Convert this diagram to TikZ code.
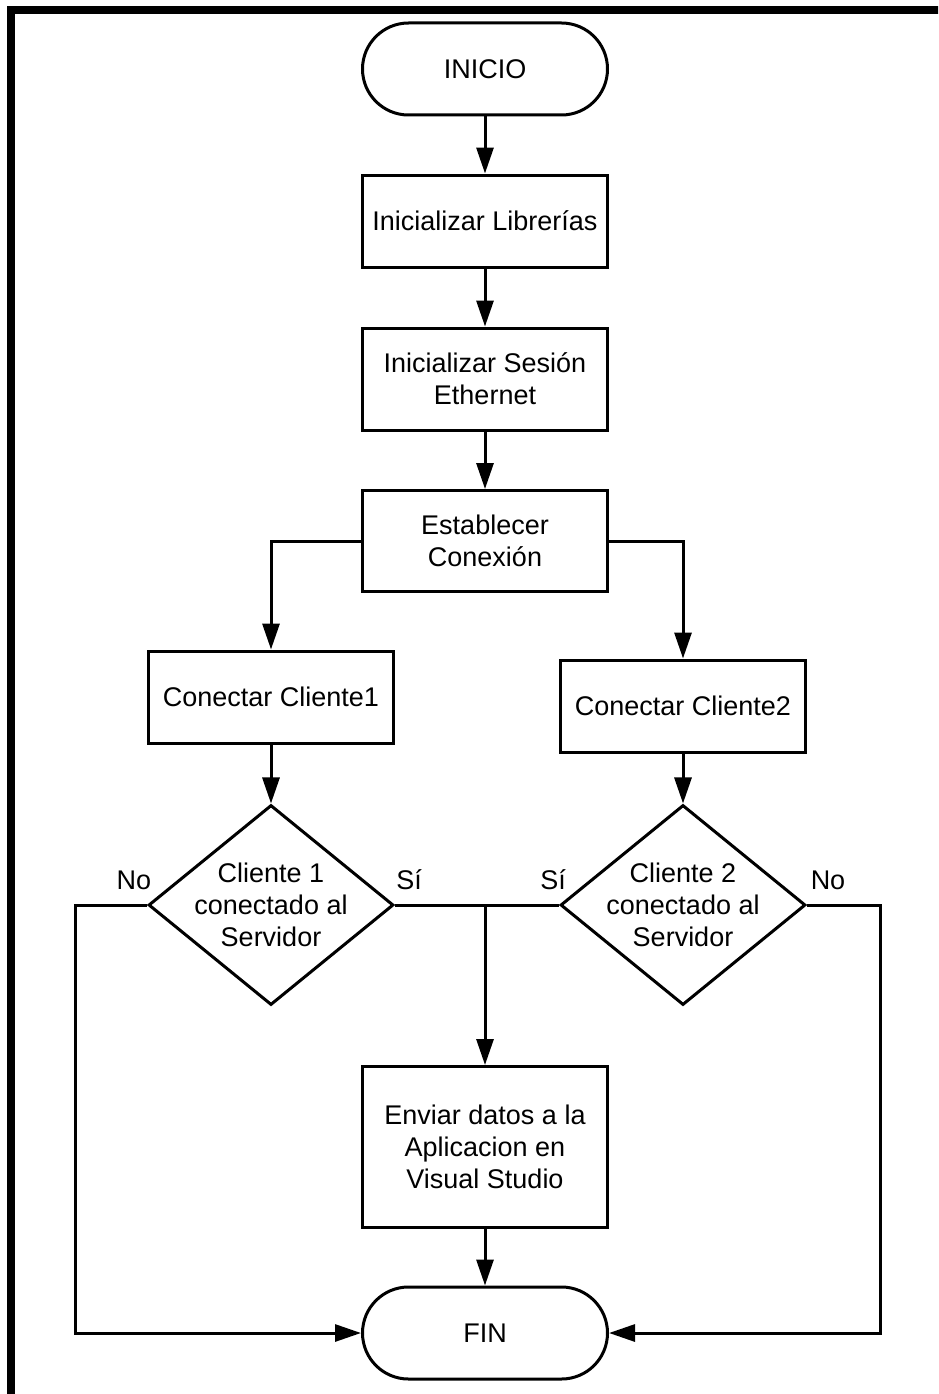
\documentclass[tikz,border=0pt]{standalone}
\usepackage{fontspec}
\setmainfont{Liberation Sans}
\usepackage{tikz}
\usetikzlibrary{shapes,arrows.meta}
\usetikzlibrary{positioning}
\newcommand{\txtdiag}{\fontsize{27}{32}\selectfont}
\tikzstyle{arrow} = [line width=3pt,-{Triangle[length=26pt,width=17pt]}]
\tikzstyle{conector} = [line width=3pt]
\tikzstyle{terminal} = [
    rectangle, rounded corners=46pt, minimum width=245pt, minimum height=92pt,
    text centered, draw=black, line width=3pt, font=\txtdiag]
\tikzstyle{proceso} = [
    rectangle, minimum width=245pt, minimum height=92pt, align=center,
    draw=black, line width=3pt, font=\txtdiag]
\tikzstyle{decision} = [
    diamond, aspect=1.225, minimum width=245pt, minimum height=200pt, inner sep=-4pt,
    align=center, draw=black, line width=3pt, font=\txtdiag]
\tikzstyle{etiqueta} = [font=\txtdiag]

\begin{document}
\begin{tikzpicture}[x=1pt,y=-1pt]
\useasboundingbox (0,0) rectangle (938,1394);
\clip (0,0) rectangle (938,1394);
% marco
\draw[line width=8pt] (950,10) -- (11,10) -- (11,1400) -- (950,1400);

\node (inicio) [terminal] at (485,69) {INICIO};
\node (librerias) [proceso] at (485,221) {Inicializar Librerías};
\node (sesion) [proceso, minimum height=102pt] at (485,379) {Inicializar Sesión\\Ethernet};
\node (conexion) [proceso, minimum height=101pt] at (485,541) {Establecer\\Conexión};

\node (cliente1) [proceso] at (271,697) {Conectar Cliente1};
\node (cliente2) [proceso] at (683,706) {Conectar Cliente2};

\node (dec1) [decision] at (271,905) {Cliente 1\\conectado al\\Servidor};
\node (dec2) [decision] at (683,905) {Cliente 2\\conectado al\\Servidor};

\node (enviar) [proceso, minimum height=161pt] at (485,1147) {Enviar datos a la\\Aplicacion en\\Visual Studio};
\node (fin) [terminal] at (485,1333) {FIN};

% etiquetas
\node (no1) [etiqueta] at (134,880) {No};
\node (si1) [etiqueta] at (409,880) {Sí};
\node (si2) [etiqueta] at (553,880) {Sí};
\node (no2) [etiqueta] at (828,880) {No};

\coordinate (union) at (485,905);
\coordinate (izq) at (75,905);
\coordinate (der) at (880,905);

\draw[arrow] (inicio) -- (librerias);
\draw[arrow] (librerias) -- (sesion);
\draw[arrow] (sesion) -- (conexion);
\draw[arrow] (conexion.west) -| (cliente1.north);
\draw[arrow] (conexion.east) -| (cliente2.north);
\draw[arrow] (cliente1) -- (dec1);
\draw[arrow] (cliente2) -- (dec2);
\draw[conector] (dec1.east) -- (dec2.west);
\draw[arrow] (union) -- (enviar);
\draw[arrow] (enviar) -- (fin);
\draw[arrow] (dec1.west) -- (izq) |- (fin.west);
\draw[arrow] (dec2.east) -- (der) |- (fin.east);
\end{tikzpicture}
\end{document}
